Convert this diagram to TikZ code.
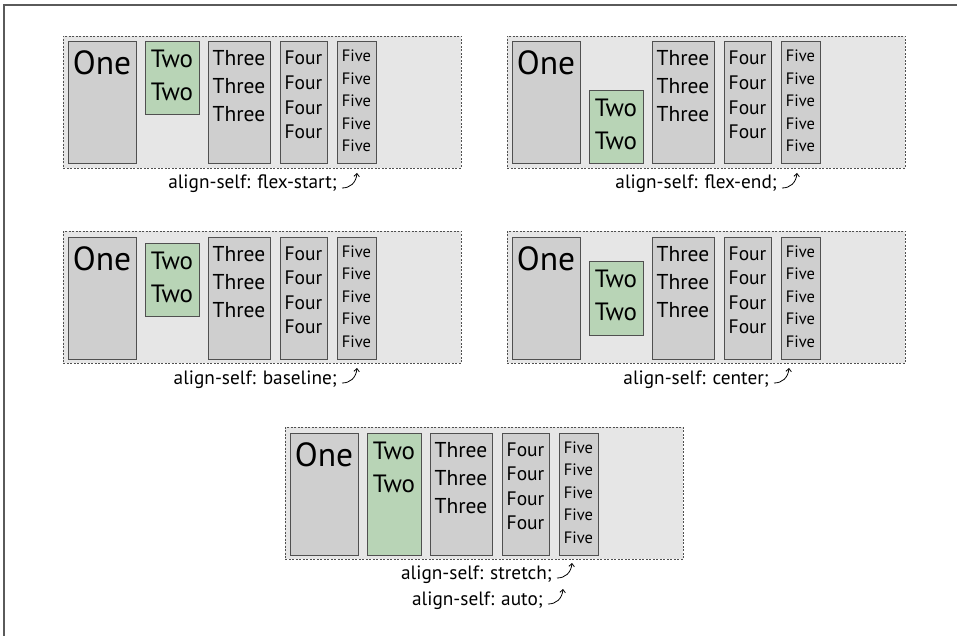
\documentclass[tikz,border=0pt]{standalone}
\usepackage{fontspec}
\setmainfont{PT Sans}
\usetikzlibrary{arrows.meta}
\definecolor{contbg}{HTML}{E6E6E6}
\definecolor{boxbg}{HTML}{CFCFCF}
\definecolor{greenbg}{HTML}{B8D4B6}
\definecolor{edge}{HTML}{505050}
\definecolor{framec}{HTML}{5A5A5A}
\tikzset{
  cont/.style={draw=edge, fill=contbg, dash pattern=on 2pt off 1.5pt, line width=0.9pt, anchor=north west, inner sep=0, outer sep=0},
  item/.style={draw=edge, fill=boxbg, line width=1pt, anchor=north west, inner sep=0, outer sep=0},
  gitem/.style={item, fill=greenbg},
  onef/.style={font=\fontsize{33.5}{38}\selectfont, anchor=base, inner sep=0},
  twof/.style={font=\fontsize{25}{29}\selectfont, anchor=base, inner sep=0},
  threef/.style={font=\fontsize{21.5}{25}\selectfont, anchor=base, inner sep=0},
  fourf/.style={font=\fontsize{19.5}{23}\selectfont, anchor=base, inner sep=0},
  fivef/.style={font=\fontsize{16.5}{20}\selectfont, anchor=base, inner sep=0},
  lbl/.style={font=\fontsize{19.3}{23}\selectfont, anchor=base east, inner sep=0},
  curv/.style={draw=black, line width=0.8pt, -{Straight Barb[length=3pt,width=5.5pt]}},
}
% #1 name, #2 x, #3 y, #4 two top, #5 two height
\newcommand\flexpanel[5]{%
  \begin{scope}[shift={(#2,#3)}]
    \node[cont, minimum width=398pt, minimum height=132pt] (#1c) at (0,0) {};
    \node[item, minimum width=68pt, minimum height=122pt] (#1one) at (5,6) {};
    \node[gitem, minimum width=54pt, minimum height=#5pt] (#1two) at (82,#4) {};
    \node[item, minimum width=62pt, minimum height=122pt] (#1three) at (145,6) {};
    \node[item, minimum width=47pt, minimum height=122pt] (#1four) at (217,6) {};
    \node[item, minimum width=39pt, minimum height=122pt] (#1five) at (274,6) {};
    \node[onef] (#1onet) at (39,39) {One};
    \node[twof] (#1twoa) at (109,#4+26) {Two};
    \node[twof] (#1twob) at (109,#4+59) {Two};
    \foreach \i in {0,1,2} {\node[threef] (#1three\i) at (176,30+28*\i) {Three};}
    \foreach \i in {0,1,2,3} {\node[fourf] (#1four\i) at (240.5,29+24.6*\i) {Four};}
    \foreach \i in {0,1,2,3,4} {\node[fivef] (#1five\i) at (293.5,26+22.5*\i) {Five};}
  \end{scope}}
% #1 name, #2 x, #3 y (absolute of base east), #4 text
\newcommand\flexlabel[4]{%
  \node[lbl] (#1) at (#2,#3) {#4};
  \coordinate (#1tip) at ([xshift=20pt,yshift=16pt]#1.base east);
  \draw[curv] ([xshift=5pt,yshift=1pt]#1.base east) .. controls ([xshift=13pt,yshift=1pt]#1.base east) and ([xshift=19pt,yshift=6pt]#1.base east) .. (#1tip);}
\begin{document}
\begin{tikzpicture}[x=1pt,y=-1pt]
  \useasboundingbox (0,0) rectangle (957,636);
  \fill[white] (0,0) rectangle (957,636);
  \coordinate (fa) at (957,5);
  \coordinate (fb) at (4,5);
  \coordinate (fc) at (4,636);
  \draw[framec, line width=1.5pt] (fa) -- (fb) -- (fc);

  \flexpanel{p1}{63}{36}{6}{73}
  \flexlabel{l1}{337}{189}{align-self: flex-start;}
  \flexpanel{p2}{507}{36}{55}{73}
  \flexlabel{l2}{777}{189}{align-self: flex-end;}
  \flexpanel{p3}{63}{231}{12}{73}
  \flexlabel{l3}{337}{384}{align-self: baseline;}
  \flexpanel{p4}{507}{231}{30}{74}
  \flexlabel{l4}{769}{384}{align-self: center;}
  \flexpanel{p5}{285}{427}{6}{122}
  \flexlabel{l5}{552}{579}{align-self: stretch;}
  \flexlabel{l6}{543}{605}{align-self: auto;}
\end{tikzpicture}
\end{document}
